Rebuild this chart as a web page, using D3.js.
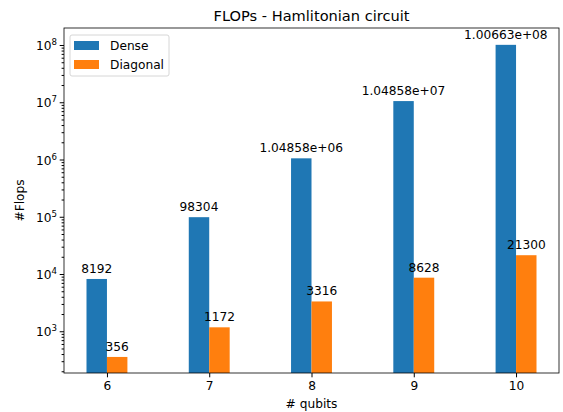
<!DOCTYPE html>
<html>
<head>
<meta charset="utf-8">
<script src="https://cdn.jsdelivr.net/npm/d3@7"></script>
<style>
  body { margin: 0; background: #fff; }
  text { font-family: "DejaVu Sans", sans-serif; fill: #000; }
</style>
</head>
<body>
<div id="chart"></div>
<script>
// chart data
const qubits = [6, 7, 8, 9, 10];
const dense = [8192, 98304, 1048576, 10485760, 100663296];
const diagonal = [356, 1172, 3316, 8628, 21300];
const denseLabels = ['8192', '98304', '1.04858e+06', '1.04858e+07', '1.00663e+08'];
const diagonalLabels = ['356', '1172', '3316', '8628', '21300'];
const yTicks = [3, 4, 5, 6, 7, 8];

const W = 563, H = 412;
const margin = { top: 28, right: 4, bottom: 39, left: 64 };
const width = W - margin.left - margin.right;
const height = H - margin.top - margin.bottom;
const barW = 0.2;

const svg = d3.select('#chart').append('svg')
  .attr('width', W)
  .attr('height', H);

const g = svg.append('g')
  .attr('transform', `translate(${margin.left},${margin.top})`);

const x = d3.scaleLinear().domain([5.58, 10.42]).range([0, width]);
const y = d3.scaleLog().domain([Math.pow(10, 2.271), Math.pow(10, 8.297)]).range([height, 0]);

const series = [
  { name: 'Dense', color: '#1f77b4', values: dense, labels: denseLabels, off: -barW },
  { name: 'Diagonal', color: '#ff7f0e', values: diagonal, labels: diagonalLabels, off: 0 }
];

// bars
series.forEach(s => {
  g.selectAll('rect.' + s.name)
    .data(qubits)
    .enter()
    .append('rect')
    .attr('x', (d) => x(d + s.off))
    .attr('width', x(barW) - x(0))
    .attr('y', (d, i) => y(s.values[i]))
    .attr('height', (d, i) => height - y(s.values[i]))
    .attr('fill', s.color);

  g.selectAll('text.' + s.name)
    .data(qubits)
    .enter()
    .append('text')
    .attr('x', (d) => x(d + s.off + barW / 2))
    .attr('y', (d, i) => y(s.values[i]) - 6)
    .attr('text-anchor', 'middle')
    .style('font-size', '12.2px')
    .text((d, i) => s.labels[i]);
});

// x axis
const xAxis = g.append('g')
  .attr('transform', `translate(0,${height})`)
  .call(d3.axisBottom(x).tickValues(qubits).tickFormat(d3.format('d'))
    .tickSize(4.3).tickSizeOuter(0).tickPadding(4));
xAxis.select('.domain').remove();
xAxis.selectAll('text').style('font-size', '12.2px').style('font-family', '"DejaVu Sans", sans-serif');

// y axis, major + minor ticks
const minor = [];
for (let e = 2; e <= 8; e++) {
  for (let m = 2; m <= 9; m++) {
    const v = m * Math.pow(10, e);
    if (v >= y.domain()[0] && v <= y.domain()[1]) minor.push(v);
  }
}
g.append('g')
  .call(d3.axisLeft(y).tickValues(minor).tickSize(2.4).tickSizeOuter(0).tickFormat(''))
  .call(a => a.select('.domain').remove());

const yAxis = g.append('g')
  .call(d3.axisLeft(y).tickValues(yTicks.map(e => Math.pow(10, e))).tickSize(4.3).tickSizeOuter(0).tickFormat(''));
yAxis.select('.domain').remove();

yTicks.forEach(e => {
  const t = g.append('text')
    .attr('x', -7)
    .attr('y', y(Math.pow(10, e)) + 5)
    .attr('text-anchor', 'end')
    .style('font-size', '12.2px');
  t.append('tspan').text('10');
  t.append('tspan').attr('dy', -5).style('font-size', '8.6px').text(e);
});

// frame
g.append('rect')
  .attr('width', width)
  .attr('height', height)
  .attr('fill', 'none')
  .attr('stroke', '#000')
  .attr('stroke-width', 0.8);

// titles
svg.append('text')
  .attr('x', margin.left + width / 2)
  .attr('y', 21)
  .attr('text-anchor', 'middle')
  .style('font-size', '14.6px')
  .text('FLOPs - Hamlitonian circuit');

svg.append('text')
  .attr('x', margin.left + width / 2)
  .attr('y', 408)
  .attr('text-anchor', 'middle')
  .style('font-size', '12.2px')
  .text('# qubits');

svg.append('text')
  .attr('transform', `translate(24,${margin.top + height / 2}) rotate(-90)`)
  .attr('text-anchor', 'middle')
  .style('font-size', '12.2px')
  .text('#Flops');

// legend
const legend = g.append('g').attr('transform', 'translate(6,7)');
legend.append('rect')
  .attr('width', 99)
  .attr('height', 41)
  .attr('rx', 2)
  .attr('fill', '#fff')
  .attr('fill-opacity', 0.8)
  .attr('stroke', '#ccc')
  .attr('stroke-width', 0.8);
series.forEach((s, i) => {
  legend.append('rect')
    .attr('x', 4)
    .attr('y', 6 + i * 19)
    .attr('width', 25)
    .attr('height', 9)
    .attr('fill', s.color);
  legend.append('text')
    .attr('x', 40)
    .attr('y', 15 + i * 19)
    .style('font-size', '12.2px')
    .text(s.name);
});
</script>
</body>
</html>
